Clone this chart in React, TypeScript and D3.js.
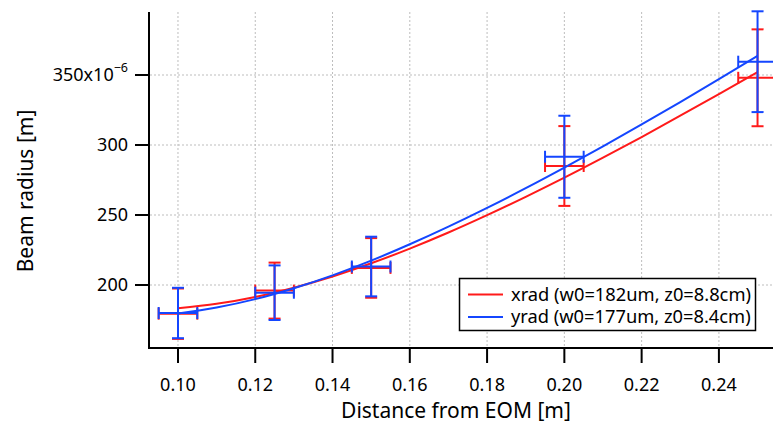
import React from "react";
import * as d3 from "d3";

// ---- data ----
const zPos = [0.10, 0.125, 0.15, 0.20, 0.25];
const zErr = [0.005, 0.005, 0.005, 0.005, 0.005];
const xradVals = [179.5, 196, 212.2, 285, 348];
const xradErr = [18, 20, 21.3, 28.5, 34.6];
const yradVals = [180, 194.5, 213.2, 291.6, 359.5];
const yradErr = [18, 19.5, 21.3, 29.3, 36];

const fitZ = [0.10, 0.11, 0.12, 0.13, 0.14, 0.15, 0.16, 0.17, 0.18, 0.19, 0.20, 0.21, 0.22, 0.23, 0.24, 0.25];
const xradFit = [183.4, 186.6, 191.5, 198.1, 206.1, 215.5, 226.0, 237.5, 249.9, 263.0, 276.7, 291.0, 305.7, 320.9, 336.4, 352.1];
const yradFit = [179.6, 183.9, 189.9, 197.7, 206.9, 217.4, 229.1, 241.7, 255.1, 269.2, 283.9, 299.1, 314.7, 330.7, 347.0, 363.6];

const xTicks = [0.10, 0.12, 0.14, 0.16, 0.18, 0.20, 0.22, 0.24];
const yTicks = [200, 250, 300, 350];
const legendLabels = ["xrad (w0=182um, z0=8.8cm)", "yrad (w0=177um, z0=8.4cm)"];

const RED = "#ff1a1a";
const BLUE = "#1446ff";
const FONT = "'Noto Sans', 'DejaVu Sans', sans-serif";

export default function App() {
  const W = 773, H = 423;
  const left = 150, right = 773, top = 12, bottom = 348;
  const x = d3.scaleLinear().domain([0.09276, 0.2540]).range([left, right]);
  const y = d3.scaleLinear().domain([155, 395]).range([bottom, top]);
  const line = d3.line<number>().x((_, i) => x(fitZ[i])).y((d) => y(d)).curve(d3.curveMonotoneX);
  const cap = 6;

  const series = [
    { vals: xradVals, err: xradErr, fit: xradFit, color: RED },
    { vals: yradVals, err: yradErr, fit: yradFit, color: BLUE },
  ];

  return (
    <svg width={W} height={H} style={{ position: "absolute", left: 0, top: 0, background: "#fff" }} fontFamily={FONT}>
      <defs>
        <clipPath id="plotclip">
          <rect x={left} y={0} width={right - left + 10} height={bottom} />
        </clipPath>
      </defs>
      {/* grid */}
      {xTicks.map((t) => (
        <line key={"gx" + t} x1={x(t)} x2={x(t)} y1={top} y2={bottom} stroke="#bdbdbd" strokeWidth={1} strokeDasharray="2 2" />
      ))}
      {yTicks.map((t) => (
        <line key={"gy" + t} x1={left} x2={right} y1={y(t)} y2={y(t)} stroke="#bdbdbd" strokeWidth={1} strokeDasharray="2 2" />
      ))}

      <g clipPath="url(#plotclip)">
        {series.map((s, si) => (
          <g key={si}>
            <path d={line(s.fit) || ""} fill="none" stroke={s.color} strokeWidth={2} />
            {zPos.map((z, i) => {
              const cx = x(z), cy = y(s.vals[i]);
              const y1 = y(s.vals[i] + s.err[i]), y2 = y(s.vals[i] - s.err[i]);
              const x1 = x(z - zErr[i]), x2 = x(z + zErr[i]);
              return (
                <g key={i} stroke={s.color} strokeWidth={2} fill="none">
                  <line x1={cx} x2={cx} y1={y1} y2={y2} />
                  <line x1={cx - cap} x2={cx + cap} y1={y1} y2={y1} />
                  <line x1={cx - cap} x2={cx + cap} y1={y2} y2={y2} />
                  <line x1={x1} x2={x2} y1={cy} y2={cy} />
                  <line x1={x1} x2={x1} y1={cy - cap} y2={cy + cap} />
                  <line x1={x2} x2={x2} y1={cy - cap} y2={cy + cap} />
                </g>
              );
            })}
          </g>
        ))}
      </g>

      {/* axes */}
      <line x1={left - 1} x2={left - 1} y1={top} y2={bottom + 1} stroke="#000" strokeWidth={2} />
      <line x1={left - 2} x2={right} y1={bottom} y2={bottom} stroke="#000" strokeWidth={2} />
      {yTicks.map((t) => (
        <g key={"yt" + t}>
          <line x1={left - 15} x2={left - 1} y1={y(t)} y2={y(t)} stroke="#000" strokeWidth={2} />
          {t === 350 ? (
            <text x={128} y={y(t)} dy="0.35em" textAnchor="end" fontSize={18}>
              350x10<tspan fontSize={12.5} dy="-0.75em">−6</tspan>
            </text>
          ) : (
            <text x={128} y={y(t)} dy="0.35em" textAnchor="end" fontSize={18}>{t}</text>
          )}
        </g>
      ))}
      {xTicks.map((t) => (
        <g key={"xt" + t}>
          <line x1={x(t)} x2={x(t)} y1={bottom} y2={bottom + 15} stroke="#000" strokeWidth={2} />
          <text x={x(t)} y={391} textAnchor="middle" fontSize={18}>{t.toFixed(2)}</text>
        </g>
      ))}

      <text x={456} y={418} textAnchor="middle" fontSize={21}>Distance from EOM [m]</text>
      <text transform="translate(33,191) rotate(-90)" textAnchor="middle" fontSize={21}>Beam radius [m]</text>

      {/* legend */}
      <rect x={459.5} y={278.5} width={296} height={52} fill="#fff" stroke="#000" strokeWidth={1.5} />
      {legendLabels.map((lab, i) => (
        <g key={lab}>
          <line x1={468} x2={503} y1={294.5 + i * 22.5} y2={294.5 + i * 22.5} stroke={i === 0 ? RED : BLUE} strokeWidth={2} />
          <text x={511} y={294.5 + i * 22.5} dy="0.35em" fontSize={18.3}>{lab}</text>
        </g>
      ))}
    </svg>
  );
}
